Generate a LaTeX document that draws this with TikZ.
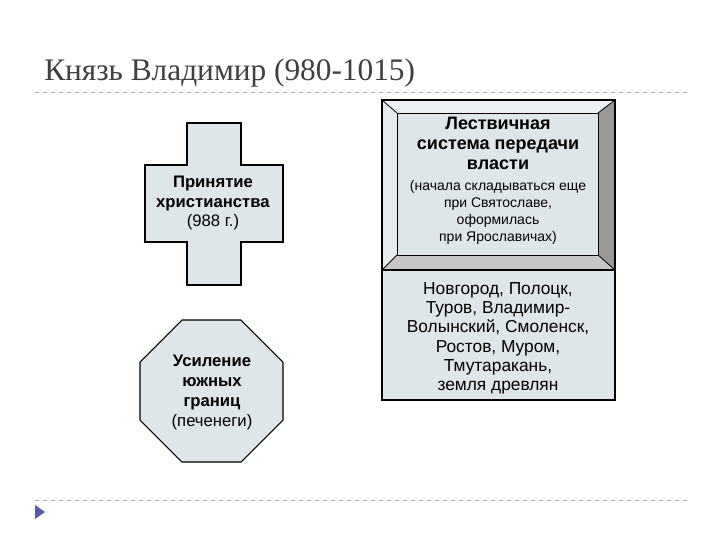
\documentclass[tikz,border=0pt]{standalone}
\usepackage{fontspec}
\setmainfont{Liberation Sans}
\newfontfamily\titlefont{Liberation Serif}
\begin{document}
\begin{tikzpicture}[x=0.75pt,y=-0.75pt,
  shapefill/.style={fill=boxfill,draw=black,line width=0.8pt},
  txt/.style={align=center,font=\fontsize{12.5}{14.5}\selectfont,inner sep=0pt}]
\definecolor{boxfill}{HTML}{DFE6EA}
\definecolor{titlegray}{HTML}{404040}
\useasboundingbox (0,0) rectangle (720,540);
\fill[white] (0,0) rectangle (720,540);
\node[anchor=base west,inner sep=0pt,text=titlegray,font=\titlefont\fontsize{23.5}{26}\selectfont] (title) at (44,80) {Князь Владимир (980-1015)};
\draw[gray!60,dashed,line width=0.6pt] (35,92) -- (690,92);
\draw[gray!60,dashed,line width=0.6pt] (35,500) -- (690,500);
% cross
\draw[shapefill] (187,123) -- (241,123) -- (241,165) -- (283,165) -- (283,242) -- (241,242) -- (241,285) -- (187,285) -- (187,242) -- (145,242) -- (145,165) -- (187,165) -- cycle;
\node[txt] (cross) at (213,203) {\textbf{Принятие}\\\textbf{христианства}\\(988 г.)};
% octagon
\draw[shapefill] (182,320) -- (241,320) -- (283,362) -- (283,420) -- (241,462) -- (182,462) -- (140,420) -- (140,362) -- cycle;
\node[txt,font=\fontsize{12.5}{15}\selectfont] (oct) at (212,392) {\textbf{Усиление}\\\textbf{южных}\\\textbf{границ}\\(печенеги)};
% bevel box
\fill[boxfill!60!white] (382,100) -- (615,100) -- (598,113) -- (397,113) -- cycle;
\fill[gray!80] (615,100) -- (615,270) -- (598,255) -- (598,113) -- cycle;
\fill[gray!45] (382,270) -- (615,270) -- (598,255) -- (397,255) -- cycle;
\fill[boxfill!80!white] (382,100) -- (397,113) -- (397,255) -- (382,270) -- cycle;
\fill[boxfill] (397,113) rectangle (598,255);
\draw[line width=0.6pt] (382,100) -- (397,113) (615,100) -- (598,113) (382,270) -- (397,255) (615,270) -- (598,255);
\draw[line width=0.6pt] (397,113) rectangle (598,255);
\draw[line width=0.8pt] (382,100) rectangle (615,270);
\node[txt,anchor=north,font=\bfseries\fontsize{13.5}{15}\selectfont] (ladder) at (498,117) {Лествичная\\система передачи\\власти};
\node[txt,anchor=north,font=\fontsize{10.5}{12.8}\selectfont] (note) at (498,180) {(начала складываться еще\\при Святославе,\\оформилась\\при Ярославичах)};
% lower box
\draw[shapefill] (382,270) rectangle (615,400);
\node[txt,anchor=north,font=\fontsize{13}{14.5}\selectfont] (cities) at (498,282) {Новгород, Полоцк,\\Туров, Владимир-\\Волынский, Смоленск,\\Ростов, Муром,\\Тмутаракань,\\земля древлян};
% bullet arrow
\fill[gray!70!blue] (35,505) -- (45,512) -- (35,519) -- cycle;
\end{tikzpicture}
\end{document}
